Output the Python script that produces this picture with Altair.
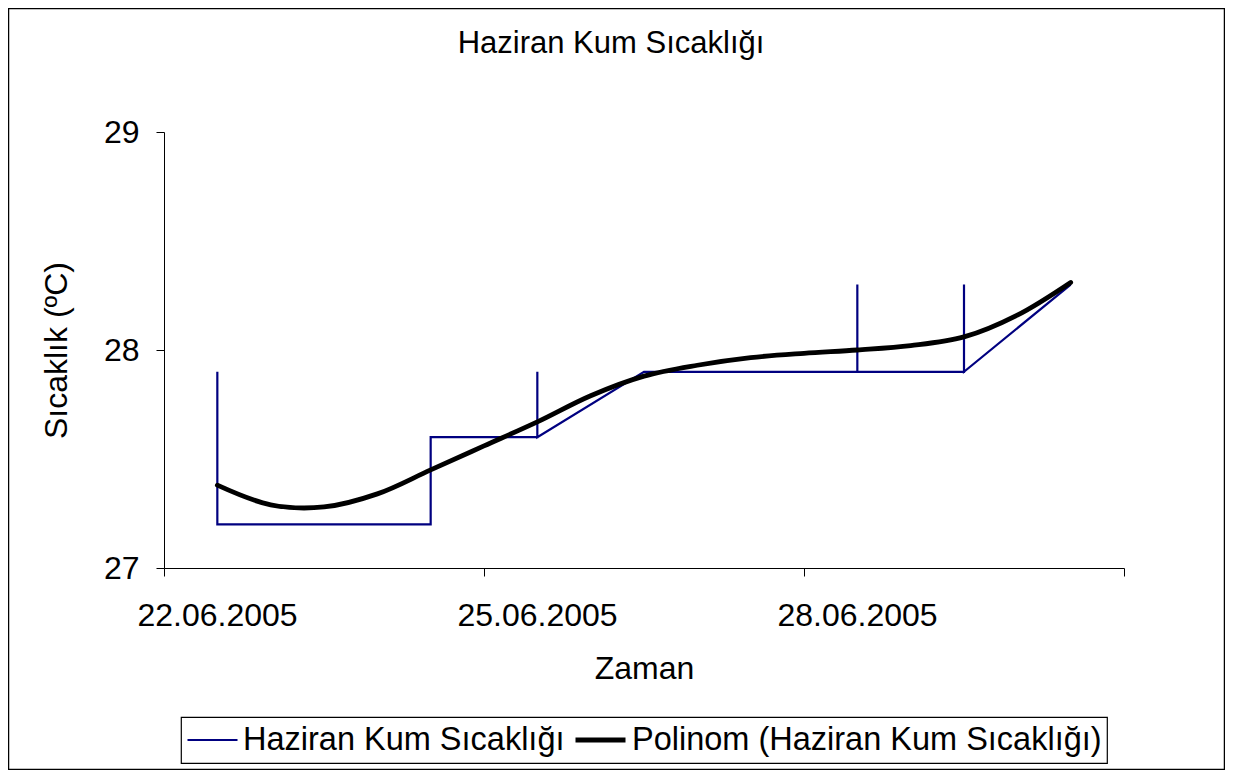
import altair as alt
import pandas as pd

SERIES = "Haziran Kum Sıcaklığı"
TREND = "Polinom (Haziran Kum Sıcaklığı)"
TITLE = "Haziran Kum Sıcaklığı"

# Observed readings (several readings may share one day)
obs_dates = ["2005-06-22", "2005-06-22", "2005-06-23", "2005-06-24", "2005-06-24",
             "2005-06-25", "2005-06-25", "2005-06-25", "2005-06-26", "2005-06-27",
             "2005-06-28", "2005-06-28", "2005-06-28", "2005-06-29", "2005-06-29",
             "2005-06-29", "2005-06-30"]
obs_temps = [27.9, 27.2, 27.2, 27.2, 27.6, 27.6, 27.9, 27.6, 27.9, 27.9,
             27.9, 28.3, 27.9, 27.9, 28.3, 27.9, 28.3]

# Polynomial trend line, every half day
trend_times = ["2005-06-22T00:00", "2005-06-22T12:00", "2005-06-23T00:00", "2005-06-23T12:00",
               "2005-06-24T00:00", "2005-06-24T12:00", "2005-06-25T00:00", "2005-06-25T12:00",
               "2005-06-26T00:00", "2005-06-26T12:00", "2005-06-27T00:00", "2005-06-27T12:00",
               "2005-06-28T00:00", "2005-06-28T12:00", "2005-06-29T00:00", "2005-06-29T12:00",
               "2005-06-30T00:00"]
trend_temps = [27.38, 27.29, 27.28, 27.34, 27.45, 27.56, 27.67, 27.79, 27.88, 27.93,
               27.965, 27.985, 28.00, 28.02, 28.06, 28.16, 28.31]

y_ticks = [27, 28, 29]
x_domain = ["2005-06-21T12:00", "2005-06-30T12:00"]
x_tick_times = ["2005-06-21T12:00", "2005-06-24T12:00", "2005-06-27T12:00", "2005-06-30T12:00"]


def ms(s):
    return int(pd.Timestamp(s, tz="UTC").value // 10**6)


obs_df = pd.DataFrame({
    "t": [d + "T00:00:00Z" for d in obs_dates],
    "temp": obs_temps,
    "idx": list(range(len(obs_temps))),
    "series": SERIES,
})
trend_df = pd.DataFrame({
    "t": [d + ":00Z" for d in trend_times],
    "temp": trend_temps,
    "idx": list(range(len(trend_temps))),
    "series": TREND,
})

FONT = "Liberation Sans"

x_enc = alt.X(
    "t:T",
    scale=alt.Scale(type="utc", domain=[ms(v) for v in x_domain], nice=False),
    axis=alt.Axis(
        values=[ms(v) for v in x_tick_times],
        tickCount=4,
        labelExpr="datum.index < 1 ? utcFormat(toNumber(datum.value) + 43200000, '%d.%m.%Y') : ''",
        labelOffset=53,
        labelFlush=False,
        labelOverlap=False,
        labelLimit=0,
        title="Zaman",
        tickSize=8,
        labelPadding=24,
        titlePadding=22,
        grid=False,
    ),
)
y_enc = alt.Y(
    "temp:Q",
    scale=alt.Scale(domain=[27, 29], nice=False, zero=False),
    axis=alt.Axis(
        values=y_ticks,
        tickCount=3,
        tickMinStep=0.1,
        labelExpr="format(datum.value, '.0f')",
        labelOverlap=False,
        title="Sıcaklık (ºC)",
        tickSize=8,
        labelPadding=17,
        titlePadding=30,
        grid=False,
    ),
)
color_enc = alt.Color(
    "series:N",
    scale=alt.Scale(domain=[SERIES, TREND], range=["#000080", "#000000"]),
    legend=alt.Legend(title=None),
)
width_enc = alt.StrokeWidth(
    "series:N",
    scale=alt.Scale(type="ordinal", domain=[SERIES, TREND], range=[2.2, 4.8]),
    legend=alt.Legend(title=None),
)

frame = alt.Chart(pd.DataFrame({"k": [0]})).mark_rect(
    filled=False, stroke="black", strokeWidth=1.5
).encode(
    x=alt.value(-155.5), x2=alt.value(1060.5),
    y=alt.value(-123.5), y2=alt.value(637.5),
)

obs_line = alt.Chart(obs_df).mark_line(interpolate="linear").encode(
    x=x_enc, y=y_enc, color=color_enc, strokeWidth=width_enc,
    order=alt.Order("idx:Q"),
)
trend_line = alt.Chart(trend_df).mark_line(interpolate="catmull-rom", strokeCap="round").encode(
    x=x_enc, y=y_enc, color=color_enc, strokeWidth=width_enc,
    order=alt.Order("idx:Q"),
)

chart = alt.layer(frame, obs_line, trend_line).properties(
    width=960,
    height=436,
    autosize=alt.AutoSizeParams(type="none"),
    padding={"left": 156, "top": 124, "right": 101, "bottom": 202},
    title=alt.TitleParams(
        text=TITLE, fontSize=31, fontWeight="normal", font=FONT, color="black",
        anchor="middle", dx=-33, offset=-52,
    ),
).configure_view(
    stroke="transparent"
).configure_axis(
    domainColor="black", tickColor="black", labelColor="black", titleColor="black",
    labelFont=FONT, titleFont=FONT, labelFontSize=32, titleFontSize=32,
    titleFontWeight="normal", domainWidth=1, tickWidth=1,
).configure_legend(
    orient="none", legendX=17, legendY=585, direction="horizontal",
    strokeColor="black", strokeWidth=1.2, padding=5, fillColor="white",
    labelFont=FONT, labelFontSize=32.5, labelColor="black", labelLimit=0,
    symbolType="stroke", symbolSize=2500, labelOffset=4, columnPadding=8,
    clipHeight=36,
)

chart.save("out.html", embed_options={"renderer": "svg", "actions": False})
